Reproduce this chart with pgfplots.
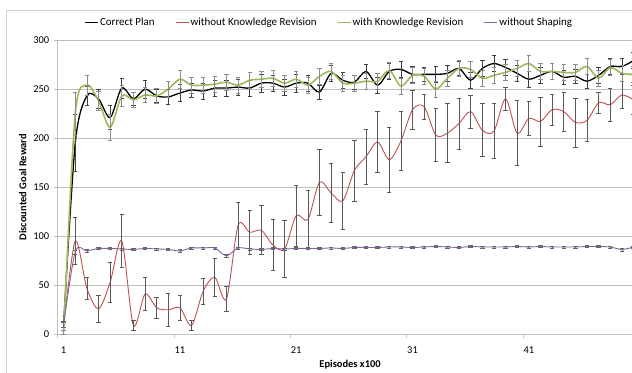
\documentclass[border=0pt]{standalone}
\usepackage{fontspec}
\setmainfont{Carlito}
\usepackage{pgfplots}
\usepackage{pgfplotstable}
\pgfplotsset{compat=1.18}
\definecolor{xlred}{HTML}{C0504D}
\definecolor{xlgreen}{HTML}{9BBB59}
\definecolor{xlpurple}{HTML}{8064A2}
\definecolor{xlgrid}{HTML}{BFBFBF}

\pgfplotstableread{
x y e
1 10 3
2 195 29
3 243 10
4 240 10
5 221 12
6 251 10
7 240 7
8 250 9
9 243 7
10 242 8
11 246 9
12 249 7
13 248 8
14 251 8
15 251 8
16 252 8
17 251 8
18 256 9
19 256 8
20 252 8
21 256 9
22 256 8
23 247 7
24 266 8
25 259 8
26 257 7
27 268 7
28 254 8
29 268 8
30 270 8
31 265 8
32 265 7
33 265 8
34 266 8
35 271 7
36 259 8
37 271 8
38 276 8
39 272 8
40 266 8
41 260 8
42 264 8
43 268 8
44 262 7
45 263 7
46 258 7
47 264 8
48 273 8
49 273 8
50 279 8
}\correct

\pgfplotstableread{
x y e
1 8 4
2 95 24
3 47 11
4 26 14
5 53 20
6 95 27
7 9 5
8 41 17
9 27 11
10 25 17
11 27 13
12 9 5
13 44 13
14 58 19
15 36 13
16 111 24
17 104 22
18 106 25
19 91 26
20 87 29
21 121 31
22 117 30
23 155 34
24 144 30
25 136 29
26 167 31
27 181 28
28 196 31
29 178 33
30 197 30
31 229 20
32 232 13
33 203 27
34 205 30
35 215 26
36 227 17
37 208 27
38 207 28
39 240 12
40 205 33
41 220 17
42 217 25
43 229 16
44 227 20
45 216 25
46 218 21
47 236 11
48 234 17
49 244 14
50 239 15
}\nokr

\pgfplotstableread{
x y e
1 2 2
2 225 22
3 254 10
4 238 10
5 211 13
6 243 11
7 239 8
8 244 8
9 243 8
10 250 8
11 260 9
12 254 8
13 254 8
14 255 8
15 257 8
16 254 8
17 259 8
18 260 8
19 261 8
20 256 8
21 260 8
22 254 8
23 263 8
24 268 8
25 256 8
26 256 8
27 258 8
28 258 8
29 269 8
30 253 8
31 264 8
32 263 8
33 250 8
34 261 8
35 271 8
36 270 8
37 261 8
38 264 8
39 267 8
40 271 8
41 276 8
42 268 8
43 268 8
44 267 8
45 267 8
46 273 8
47 261 8
48 272 8
49 266 8
50 265 8
}\withkr

\pgfplotstableread{
x y e
1 10 3
2 84 2
3 85 1.5
4 87.5 1
5 87.5 1
6 87 1
7 86.5 1
8 87.5 1
9 87 1
10 86.5 1
11 85 1.5
12 88 1
13 88 1
14 88 1
15 80 1.5
16 88 1
17 87 1
18 86.5 1
19 87.5 1
20 87 1
21 87.5 1
22 87.5 1
23 87.5 1
24 88 1
25 87.5 1
26 88.5 1
27 88.5 1
28 88.5 1
29 89 1
30 89 1
31 88.5 1
32 89 1
33 89.5 1
34 89 1
35 88.5 1
36 89.5 1
37 89 1
38 89 1
39 89 1
40 89.5 1
41 89 1
42 89.5 1
43 89 1
44 89 1
45 89 1
46 89.5 1
47 89.5 1
48 89 1
49 86.5 1.5
50 89 1
}\noshape

\begin{document}
\begin{tikzpicture}
\path[use as bounding box] (0,0) rectangle (632bp,373bp);
\draw[xlgrid!70, line width=0.6bp] (6.5bp,0) -- (6.5bp,363bp) -- (640bp,363bp);
\begin{axis}[
  at={(57.8bp,38.7bp)}, anchor=south west,
  scale only axis, width=574.2bp, height=294.3bp,
  xmin=0.5, xmax=49.87, ymin=0, ymax=300,
  axis x line*=bottom, axis y line*=left,
  axis line style={draw=xlgrid, line width=0.8bp},
  ytick={0,50,...,300},
  ymajorgrids, grid style={draw=xlgrid, line width=0.8bp},
  xtick={0.5,10.5,20.5,30.5,40.5},
  xticklabels={1,11,21,31,41},
  tick align=outside, major tick length=4bp,
  tick style={draw=xlgrid, line width=0.8bp},
  xticklabel style={xshift=5.8bp, yshift=-4.5bp, font=\fontsize{10.5}{12}\selectfont},
  yticklabel style={font=\fontsize{10.5}{12}\selectfont, xshift=-1bp},
  /pgf/number format/assume math mode=true,
  xlabel={Episodes x100},
  ylabel={Discounted Goal Reward},
  xlabel style={font=\bfseries\fontsize{10.5}{12}\selectfont, at={(axis description cs:0.509,0)}, anchor=center, yshift=-30bp},
  ylabel style={font=\bfseries\fontsize{10.5}{12}\selectfont, at={(axis description cs:0,0.5)}, anchor=center, yshift=35bp},
  legend columns=4,
  legend style={draw=none, fill=none, at={(0.4725,1.061)}, anchor=center,
    font=\fontsize{11}{13}\selectfont,
    /tikz/every even column/.append style={column sep=19bp},
    nodes={inner xsep=1.5bp}},
  legend image code/.code={\draw[#1, line width=1bp] (0bp,0bp) -- (13bp,0bp);},
  every axis plot/.append style={smooth, tension=0.5},
]
\addplot[black, line width=1.3bp,
  error bars/.cd, y dir=both, y explicit, error bar style={black!75, line width=0.7bp}, error mark options={rotate=90, mark size=2.2bp, black!75, line width=0.7bp}]
  table[x=x, y=y, y error=e] {\correct};
\addlegendentry{Correct Plan}
\addplot[xlred, line width=0.9bp,
  error bars/.cd, y dir=both, y explicit, error bar style={black!65, line width=0.7bp}, error mark options={rotate=90, mark size=2.2bp, black!65, line width=0.7bp}]
  table[x=x, y=y, y error=e] {\nokr};
\addlegendentry{without Knowledge Revision}
\addplot[xlgreen, line width=1.6bp,
  error bars/.cd, y dir=both, y explicit, error bar style={black!45, line width=0.7bp}, error mark options={rotate=90, mark size=2.2bp, black!45, line width=0.7bp}]
  table[x=x, y=y, y error=e] {\withkr};
\addlegendentry{with Knowledge Revision}
\addplot[xlpurple, line width=0.9bp,
  error bars/.cd, y dir=both, y explicit, error bar style={black!60, line width=0.7bp}, error mark options={rotate=90, mark size=2.2bp, black!60, line width=0.7bp}]
  table[x=x, y=y, y error=e] {\noshape};
\addlegendentry{without Shaping}
\end{axis}
\end{tikzpicture}
\end{document}
